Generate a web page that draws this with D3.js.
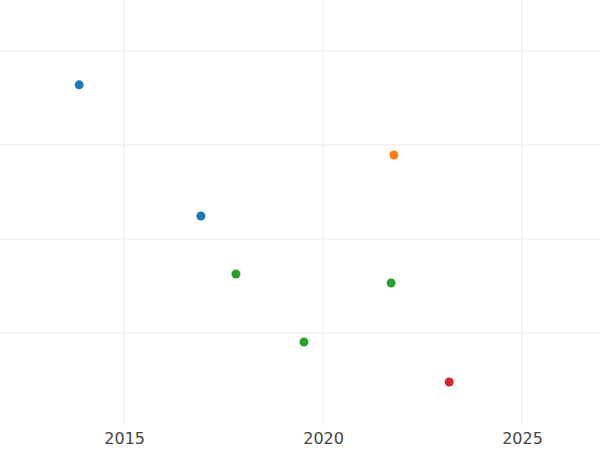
<!DOCTYPE html><html><head><meta charset="utf-8"><script src="https://cdn.jsdelivr.net/npm/d3@7"></script>
<style>body{margin:0;background:#fff}</style></head><body><svg id="c" width="600" height="450"></svg>
<script>
const years=[2013.87,2016.93,2021.78,2017.81,2021.71,2019.52,2023.17];
const values=[3.64,2.245,2.894,1.628,1.532,0.904,0.479];
const groups=["a","a","b","c","c","c","d"];
const colors={a:"#1f77b4",b:"#ff7f0e",c:"#2ca02c",d:"#d62728"};
const xTicks=[2015,2020,2025];
const yTicks=[1,2,3,4];
const svg=d3.select("#c");
const x=d3.scaleLinear().domain([2011.88,2026.96]).range([0,600]);
const y=d3.scaleLinear().domain([0,4]).range([427,51]);
svg.append("g").selectAll("line").data(xTicks).join("line")
 .attr("x1",d=>x(d)).attr("x2",d=>x(d)).attr("y1",0).attr("y2",425).attr("stroke","#ebebeb");
svg.append("g").selectAll("line").data(yTicks).join("line")
 .attr("x1",0).attr("x2",600).attr("y1",d=>y(d)).attr("y2",d=>y(d)).attr("stroke","#ebebeb");
const ax=svg.append("g").attr("transform","translate(0,425)").call(d3.axisBottom(x).tickValues(xTicks).tickFormat(d3.format("d")).tickSize(0).tickPadding(8));
ax.select(".domain").remove();
ax.selectAll("text").attr("font-family","DejaVu Sans").attr("font-size",16).attr("fill","#444");
svg.append("g").selectAll("circle").data(years).join("circle")
 .attr("cx",d=>x(d)).attr("cy",(d,i)=>y(values[i])).attr("r",4.5).attr("fill",(d,i)=>colors[groups[i]]);
</script></body></html>
